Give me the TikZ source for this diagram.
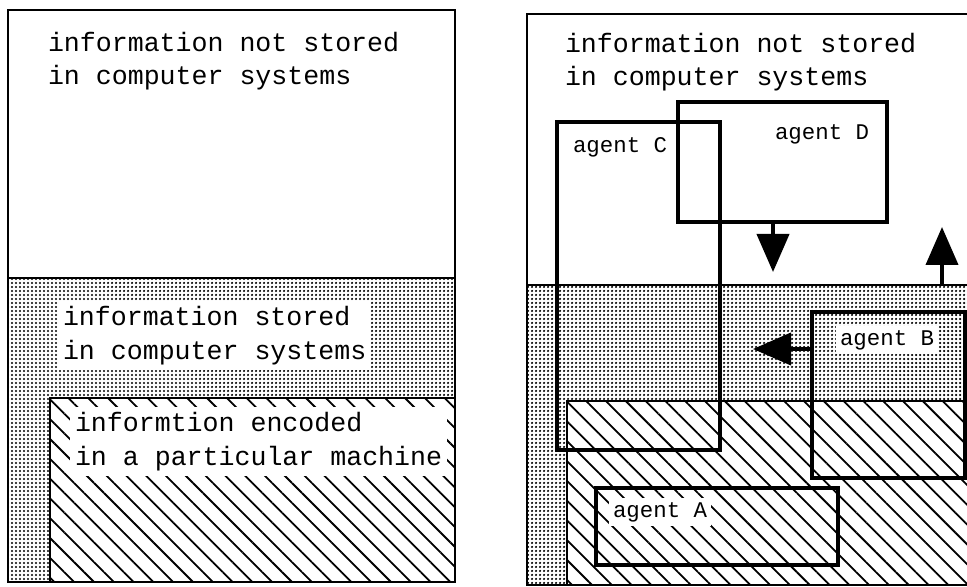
\documentclass[tikz,border=0pt]{standalone}
\usepackage{fontspec}
\setmainfont{Liberation Mono}
\usetikzlibrary{patterns.meta,arrows.meta}

\begin{document}
\begin{tikzpicture}[
        x=0.5pt, y=-0.5pt,
        every node/.style={inner sep=0pt, outer sep=0pt},
        region/.style={line width=1pt},
        stored/.style={pattern={Dots[distance=2pt, radius=0.62pt]}},
        encoded/.style={fill=white, postaction={pattern={Lines[angle=-45, distance=7pt, line width=0.9pt]}}},
        bigtext/.style={font=\fontsize{13.3}{16.7}\selectfont, align=left, anchor=base west},
        agentbox/.style={draw, line width=2pt},
        agentlabel/.style={font=\fontsize{11.2}{13}\selectfont, anchor=base west},
        flow/.style={-{Triangle[length=19pt, width=16pt]}, line width=2pt}
    ]

    \useasboundingbox (0,0) rectangle (967,587);
    \clip (0,0) rectangle (967,587);

    % Left panel
    \fill[white] (8,10) rectangle (455,582);
    \path[stored] (8,278) rectangle (455,582);
    \path[encoded] (50,398) rectangle (455,582);
    \draw[region] (50,582) |- (455,398);
    \draw[region] (8,10) rectangle (455,582);
    \draw[region] (8,278) -- (455,278);

    % (base = last line)
    \node[bigtext] (notL) at (48,85) {information not stored\\in computer systems};
    \node[bigtext, fill=white, inner sep=2.5pt] (storedL) at (58,359) {information stored\\in computer systems};
    \node[bigtext, fill=white, inner sep=2.5pt] (encodedL) at (70,465) {informtion encoded\\in a particular machine};

    % Right panel
    \fill[white] (527,14) rectangle (980,585);
    \path[stored] (527,285) rectangle (980,585);
    \path[encoded] (567,401) rectangle (980,585);
    \draw[line width=0.6pt] (567,585) |- (980,401);
    \draw[region] (527,14) rectangle (980,585);
    \draw[region] (527,285) -- (980,285);

    \node[bigtext] (notR) at (565,86) {information not stored\\in computer systems};

    % Agents
    \node[agentbox, minimum width=81.5pt, minimum height=164pt] (agC) at (638.5,286) {};
    \node[agentbox, minimum width=104.5pt, minimum height=60pt] (agD) at (782.5,162) {};
    \node[agentbox, minimum width=76.5pt, minimum height=83pt] (agB) at (888.5,395) {};
    \node[agentbox, minimum width=121pt, minimum height=38.5pt] (agA) at (717,526.5) {};

    \node[agentlabel] (lblC) at (573,153) {agent C};
    \node[agentlabel] (lblD) at (775,140) {agent D};
    \node[agentlabel, fill=white, inner sep=2pt] (lblB) at (836,345) {agent B};
    \node[agentlabel, fill=white, inner sep=2pt] (lblA) at (609,517) {agent A};

    % Flows across the boundary
    \coordinate (dTip) at (773,272);
    \draw[flow] (agD.south -| dTip) -- (dTip);
    \coordinate (upBase) at (942,285);
    \coordinate (upTip) at (942,227);
    \draw[flow] (upBase) -- (upTip);
    \coordinate (bTip) at (753,349);
    \draw[flow] (agB.west |- bTip) -- (bTip);

\end{tikzpicture}
\end{document}
